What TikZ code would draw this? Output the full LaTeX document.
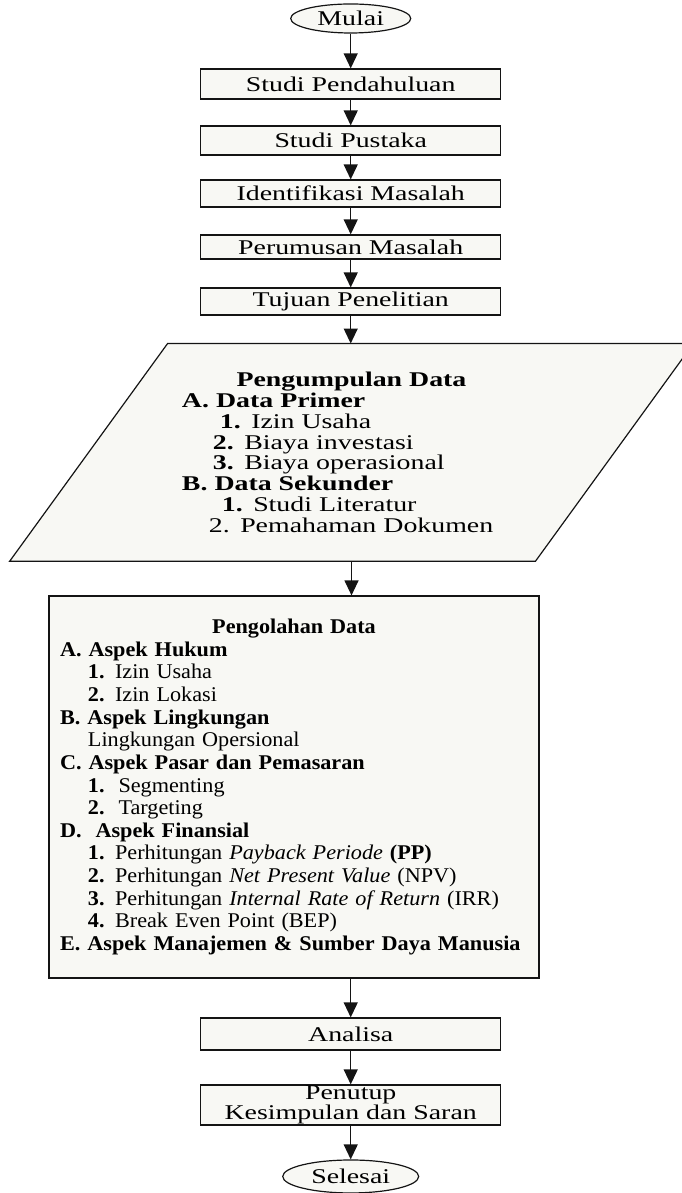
\documentclass[tikz,border=0pt]{standalone}
\usepackage{fontspec}
\setmainfont{Liberation Serif}
\newfontfamily\widefont{Liberation Serif}[FakeStretch=1.33]
\newfontfamily\procfont{Liberation Serif}[FakeStretch=1.06]
\usetikzlibrary{shapes.geometric, arrows.meta, calc, backgrounds}
\definecolor{boxfill}{RGB}{248,248,244}
\definecolor{linecol}{RGB}{20,20,20}

\begin{document}
\begin{tikzpicture}[
    arr/.style={-{Triangle[length=7.5pt, width=7pt]}, line width=0.6pt, draw=linecol},
    stepbox/.style={draw=linecol, fill=boxfill, line width=0.6pt,
                    minimum width=5.286cm, inner sep=0pt, align=center,
                    font=\widefont\fontsize{10.5}{10}\selectfont},
    term/.style={ellipse, draw=linecol, fill=boxfill, line width=0.6pt,
                 inner sep=0pt, font=\widefont\fontsize{10.5}{10}\selectfont},
]

\path[use as bounding box] (0,0) rectangle (12,21.022);

% ════════════════════════════════════════════════════════
% 0. START AND FIRST STEPS
% ════════════════════════════════════════════════════════
\node[term, minimum width=2.115cm, minimum height=0.511cm] (start)
    at (6.18, 20.696) {Mulai};

\node[stepbox, minimum height=0.529cm] (s1) at (6.18, 19.542) {Studi Pendahuluan};
\node[stepbox, minimum height=0.511cm] (s2) at (6.18, 18.546) {Studi Pustaka};
\node[stepbox, minimum height=0.476cm] (s3) at (6.18, 17.612) {Identifikasi Masalah};
\node[stepbox, minimum height=0.423cm] (s4) at (6.18, 16.670) {Perumusan Masalah};
\node[stepbox, minimum height=0.476cm] (s5) at (6.18, 15.709) {Tujuan Penelitian};

% ════════════════════════════════════════════════════════
% 1. DATA COLLECTION (parallelogram)
% ════════════════════════════════════════════════════════
\node[minimum width=9.251cm, minimum height=3.824cm, inner sep=0pt,
      text width=5.974cm, align=left,
      font=\widefont\fontsize{10.5}{10.45}\selectfont] (pd) at (6.194, 13.05)
    {\makebox[\linewidth]{\bfseries Pengumpulan Data}\\
     \textbf{A. Data Primer}\\
     \hspace*{19pt}\textbf{1.} Izin Usaha\\
     \hspace*{15.5pt}\textbf{2.} Biaya investasi\\
     \hspace*{15.5pt}\textbf{3.} Biaya operasional\\
     \textbf{B. Data Sekunder}\\
     \hspace*{20pt}\textbf{1.} Studi Literatur\\
     \hspace*{13.5pt}2. Pemahaman Dokumen};

\begin{scope}[on background layer]
\draw[fill=boxfill, draw=linecol, line width=0.6pt]
    ($(pd.north west)+(1.392,0)$) -- ($(pd.north east)+(1.392,0)$)
    -- ($(pd.south east)-(1.392,0)$) -- ($(pd.south west)-(1.392,0)$) -- cycle;
\end{scope}

% ════════════════════════════════════════════════════════
% 2. DATA PROCESSING
% ════════════════════════════════════════════════════════
\node[stepbox, minimum width=8.634cm, minimum height=6.731cm,
      text width=8.247cm, align=left,
      font=\procfont\fontsize{10.5}{11.35}\selectfont] (proc) at (5.181, 7.154)
    {\makebox[\linewidth]{\bfseries Pengolahan Data}\\
     \textbf{A. Aspek Hukum}\\
     \hspace*{14pt}\textbf{1.} Izin Usaha\\
     \hspace*{14pt}\textbf{2.} Izin Lokasi\\
     \textbf{B. Aspek Lingkungan}\\
     \hspace*{14pt}Lingkungan Opersional\\
     \textbf{C. Aspek Pasar dan Pemasaran}\\
     \hspace*{14pt}\textbf{1.}\ \ Segmenting\\
     \hspace*{14pt}\textbf{2.}\ \ Targeting\\
     \textbf{D.\ \ Aspek Finansial}\\
     \hspace*{14pt}\textbf{1.} Perhitungan \textit{Payback Periode} \textbf{(PP)}\\
     \hspace*{14pt}\textbf{2.} Perhitungan \textit{Net Present Value} (NPV)\\
     \hspace*{14pt}\textbf{3.} Perhitungan \textit{Internal Rate of Return} (IRR)\\
     \hspace*{14pt}\textbf{4.} Break Even Point (BEP)\\
     \mbox{\textbf{E. Aspek Manajemen \& Sumber Daya Manusia}}};

% ════════════════════════════════════════════════════════
% 3. LAST STEPS AND END
% ════════════════════════════════════════════════════════
\node[stepbox, minimum height=0.564cm] (an) at (6.18, 2.802) {Analisa};
\node[stepbox, minimum height=0.705cm] (pn) at (6.18, 1.551)
    {Penutup\\Kesimpulan dan Saran};
\node[term, minimum width=2.396cm, minimum height=0.581cm] (finish)
    at (6.18, 0.291) {Selesai};

% Connectors
\draw[arr] (start) -- (s1);
\foreach \a/\b in {s1/s2, s2/s3, s3/s4, s4/s5}{
    \draw[arr] (\a) -- (\b);
}
\draw[arr] (s5) -- (s5 |- pd.north);
\draw[arr] (pd.south) -- (pd.south |- proc.north);
\draw[arr] (an.north |- proc.south) -- (an);
\draw[arr] (an) -- (pn);
\draw[arr] (pn) -- (finish);

\end{tikzpicture}
\end{document}
